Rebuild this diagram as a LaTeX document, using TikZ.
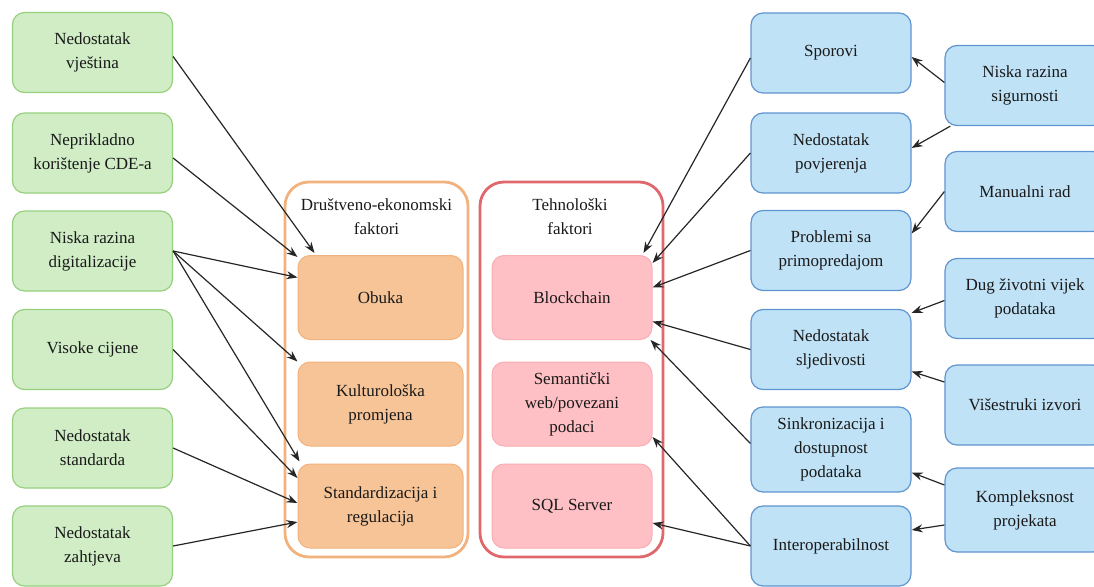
\documentclass[tikz,border=0pt]{standalone}
\usepackage{fontspec}
\setmainfont{Liberation Serif}
\usetikzlibrary{arrows.meta,calc}
\definecolor{zelPun}{RGB}{208,237,198}
\definecolor{zelRub}{RGB}{150,208,125}
\definecolor{narPun}{RGB}{246,196,150}
\definecolor{narRub}{RGB}{242,178,125}
\definecolor{crvPun}{RGB}{255,192,197}
\definecolor{crvRub}{RGB}{224,104,108}
\definecolor{plaPun}{RGB}{192,226,246}
\definecolor{plaRub}{RGB}{96,148,208}
\begin{document}
\begin{tikzpicture}[x=1pt,y=-1pt,
	every node/.style={align=center,text=black!90,font=\fontsize{17}{24}\selectfont},
	uzrok/.style={draw=zelRub,fill=zelPun,rounded corners=12pt,line width=1.2pt,minimum width=160pt,minimum height=80pt},
	drustvo/.style={draw=narRub,fill=narPun,rounded corners=12pt,line width=1pt,minimum width=165pt,minimum height=84pt},
	tehno/.style={draw=crvPun!80!crvRub,fill=crvPun,rounded corners=12pt,line width=1pt,minimum width=160pt,minimum height=84pt},
	problem/.style={draw=plaRub,fill=plaPun,rounded corners=12pt,line width=1.2pt,minimum width=160pt,minimum height=80pt},
	okvir/.style={rounded corners=24pt,line width=2.8pt,minimum width=183pt,minimum height=375pt},
	strelica/.style={-{Stealth[length=11pt,width=8pt]},line width=1.2pt,black!85}]
	\useasboundingbox (0,0) rectangle (1094,586);
	% lijevi stupac
	\node[uzrok] (vjestina) at (92.5,52.5) {Nedostatak\\vještina};
	\node[uzrok] (cde) at (92.5,153) {Neprikladno\\korištenje CDE-a};
	\node[uzrok] (digital) at (92.5,251) {Niska razina\\digitalizacije};
	\node[uzrok] (cijene) at (92.5,349.5) {Visoke cijene};
	\node[uzrok] (standarda) at (92.5,448) {Nedostatak\\standarda};
	\node[uzrok] (zahtjeva) at (92.5,546) {Nedostatak\\zahtjeva};
	% okviri
	\node[okvir,draw=narRub] (drustveni) at (376.5,369.5) {};
	\node (drustveniNaslov) at (376.5,217) {Društveno-ekonomski\\faktori};
	\node[okvir,draw=crvRub] (tehnoloski) at (571.5,369.5) {};
	\node (tehnoloskiNaslov) at (570,217) {Tehnološki\\faktori};
	\node[drustvo] (obuka) at (380.5,297.5) {Obuka};
	\node[drustvo] (kultura) at (380.5,404) {Kulturološka\\promjena};
	\node[drustvo] (stdreg) at (380.5,506) {Standardizacija i\\regulacija};
	\node[tehno] (blockchain) at (572,297.5) {Blockchain};
	\node[tehno] (semantika) at (572,404) {Semantički\\web/povezani\\podaci};
	\node[tehno] (sql) at (572,506) {SQL Server};
	% srednji stupac
	\node[problem] (sporovi) at (831,53) {Sporovi};
	\node[problem] (povjerenje) at (831,153) {Nedostatak\\povjerenja};
	\node[problem] (primopredaja) at (831,250.5) {Problemi sa\\primopredajom};
	\node[problem] (sljedivost) at (831,349.5) {Nedostatak\\sljedivosti};
	\node[problem,minimum height=85pt] (sinkron) at (831,449.5) {Sinkronizacija i\\dostupnost\\podataka};
	\node[problem] (interop) at (831,546) {Interoperabilnost};
	% desni stupac
	\node[problem] (sigurnost) at (1025,85.5) {Niska razina\\sigurnosti};
	\node[problem] (manualni) at (1025,191.5) {Manualni rad};
	\node[problem] (zivotni) at (1025,298.5) {Dug životni vijek\\podataka};
	\node[problem] (izvori) at (1025,405) {Višestruki izvori};
	\node[problem,minimum height=84pt] (kompleksnost) at (1025,510) {Kompleksnost\\projekata};
	% strelice lijevo
	\draw[strelica] ($(vjestina.east)+(0,4)$) -- ($(obuka.north west)+(17,-2)$);
	\draw[strelica] ($(cde.east)+(0,5)$) -- ($(obuka.north west)+(0,2)$);
	\draw[strelica] (digital.east) -- ($(obuka.west)+(0,-20)$);
	\draw[strelica] (digital.east) -- (kultura.north west);
	\draw[strelica] (digital.east) -- ($(stdreg.north west)+(2,-2)$);
	\draw[strelica] (cijene.east) -- ($(stdreg.west)+(0,-28)$);
	\draw[strelica] (standarda.east) -- ($(stdreg.west)+(0,-3)$);
	\draw[strelica] (zahtjeva.east) -- ($(stdreg.west)+(0,16)$);
	% strelice desno
	\draw[strelica] ($(sporovi.west)+(0,5)$) -- ($(blockchain.north east)+(-9,-2)$);
	\draw[strelica] (povjerenje.west) -- ($(blockchain.north east)+(0,8)$);
	\draw[strelica] (primopredaja.west) -- ($(blockchain.east)+(0,-10)$);
	\draw[strelica] (sljedivost.west) -- ($(blockchain.east)+(0,24)$);
	\draw[strelica] ($(sinkron.west)+(0,-6)$) -- ($(blockchain.south east)+(-2,0)$);
	\draw[strelica] (interop.west) -- ($(semantika.east)+(0,33)$);
	\draw[strelica] (interop.west) -- ($(sql.east)+(0,17)$);
	\draw[strelica] ($(sigurnost.west)+(0,-3)$) -- ($(sporovi.east)+(0,4)$);
	\draw[strelica] ($(sigurnost.south west)+(6,0)$) -- ($(povjerenje.east)+(0,-5)$);
	\draw[strelica] (manualni.west) -- ($(primopredaja.east)+(0,-17)$);
	\draw[strelica] ($(zivotni.west)+(0,2)$) -- ($(sljedivost.north east)+(0,4)$);
	\draw[strelica] ($(izvori.west)+(0,-23)$) -- ($(sljedivost.east)+(0,22)$);
	\draw[strelica] ($(kompleksnost.west)+(0,-25)$) -- ($(sinkron.east)+(0,23)$);
	\draw[strelica] ($(kompleksnost.west)+(0,15)$) -- ($(interop.east)+(0,-16)$);
\end{tikzpicture}
\end{document}
